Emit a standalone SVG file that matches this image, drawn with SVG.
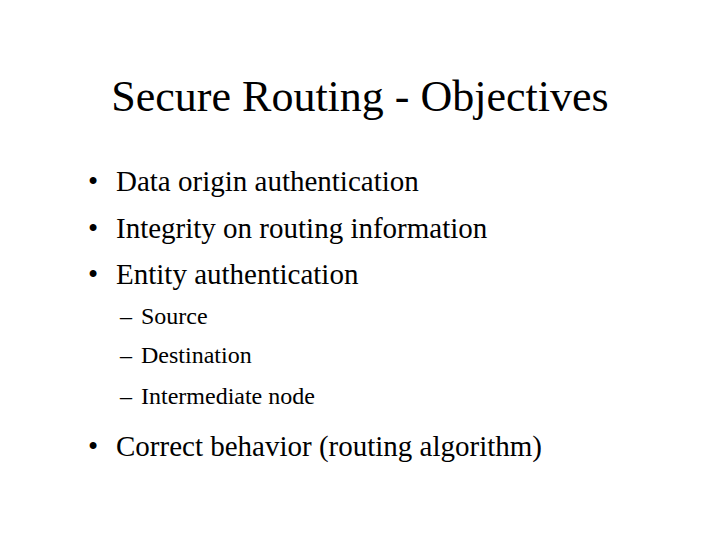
<svg xmlns="http://www.w3.org/2000/svg" width="720" height="540" viewBox="0 0 720 540">
<style>text{font-family:"Liberation Serif",serif;fill:#000}.b{font-size:29px}.s{font-size:24px}</style>
<rect width="720" height="540" fill="#fff"/>
<text x="360" y="111" font-size="44" text-anchor="middle">Secure Routing - Objectives</text>
<g class="b">
<text x="88" y="191">•</text><text x="116" y="191">Data origin authentication</text>
<text x="88" y="238">•</text><text x="116" y="238">Integrity on routing information</text>
<text x="88" y="284">•</text><text x="116" y="284">Entity authentication</text>
<text x="88" y="456">•</text><text x="116" y="456">Correct behavior (routing algorithm)</text>
</g>
<g class="s">
<text x="120" y="324">–</text><text x="141" y="324">Source</text>
<text x="120" y="363">–</text><text x="141" y="363">Destination</text>
<text x="120" y="404">–</text><text x="141" y="404">Intermediate node</text>
</g>
</svg>
